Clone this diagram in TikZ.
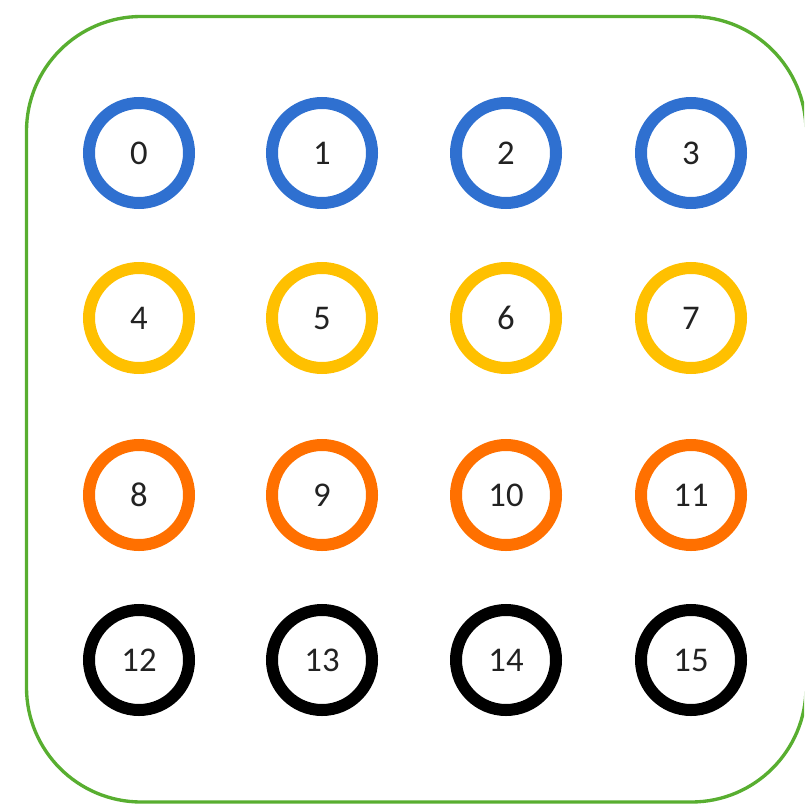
\documentclass[tikz,border=0pt]{standalone}
\usepackage{fontspec}
\setmainfont{Carlito}
\definecolor{cblue}{HTML}{2F70D0}
\definecolor{cyellow}{HTML}{FFC000}
\definecolor{corange}{HTML}{FF7000}
\definecolor{cgreen}{HTML}{58AE30}
\definecolor{ctext}{HTML}{222222}
\tikzset{
  ring/.style={circle, draw=#1, line width=9pt, minimum size=75pt, inner sep=0pt,
    text=ctext, font=\fontsize{26}{30}\selectfont},
  frame/.style={draw=cgreen, line width=2.5pt, rounded corners=86pt}
}
\begin{document}
\begin{tikzpicture}[x=0.75pt, y=-0.75pt]
\useasboundingbox (0,0) rectangle (804,805);
\begin{scope}
\clip (0,0) rectangle (804,805);
\draw[frame] (26.5,16.5) rectangle (806,802);
\end{scope}
\foreach \c/\y [count=\r from 0] in {cblue/153, cyellow/318, corange/495, black/660} {
  \foreach \x [count=\k from 0] in {139, 322, 506, 691} {
    \pgfmathtruncatemacro{\idx}{4*\r+\k}
    \node[ring=\c] (n\idx) at (\x,\y) {\raisebox{-1.5pt}{\idx}};
  }
}
\end{tikzpicture}
\end{document}
